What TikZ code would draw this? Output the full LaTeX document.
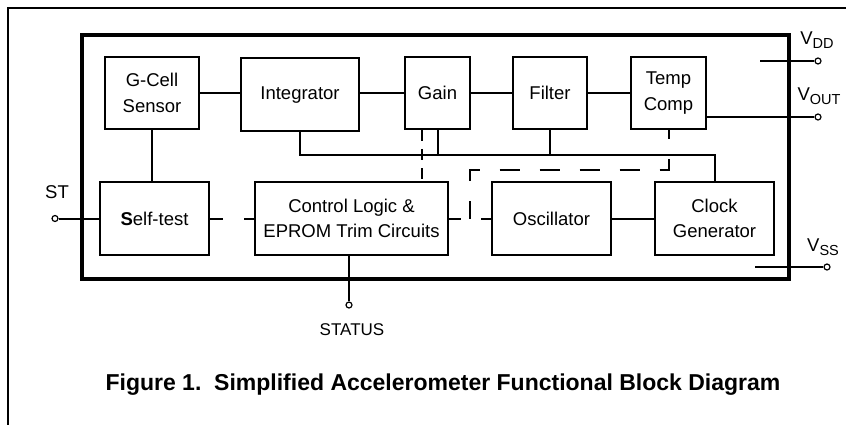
\documentclass[tikz,border=0pt]{standalone}
\usepackage{fontspec}
\setmainfont{Liberation Sans}
\usepackage{tikz}
\usetikzlibrary{calc}

\newcommand{\pinname}[2]{#1\raisebox{-4.5pt}{\fontsize{14.5}{15}\selectfont #2}}

\begin{document}
\begin{tikzpicture}[x=1pt, y=-1pt,
    blk/.style={draw, line width=2pt, align=center, inner sep=0pt,
                font=\fontsize{18.5}{25.5}\selectfont},
    wire/.style={line width=2pt},
    term/.style={circle, draw, line width=1.2pt, minimum size=6pt, inner sep=0pt},
    termtxt/.style={font=\fontsize{18.5}{20}\selectfont, inner sep=0pt}]
    \useasboundingbox (0,0) rectangle (846,425);

    % frames
    \draw[wire] (846,8) -- (8,8) -- (8,425);
    \draw[line width=3.2pt] (82,35) rectangle (789,279);

    % top row
    \node[blk, minimum width=94pt, minimum height=72pt] (gcell) at (152,93) {G-Cell\\Sensor};
    \node[blk, minimum width=118pt, minimum height=73pt] (integ) at (300,95) {Integrator};
    \node[blk, minimum width=65pt, minimum height=72pt] (gain) at (437.5,93) {Gain};
    \node[blk, minimum width=74pt, minimum height=72pt] (filter) at (550,93) {Filter};
    \node[blk, minimum width=75pt, minimum height=72pt] (temp) at (668.5,93) {Temp\\Comp};

    % bottom row
    \node[blk, minimum width=109pt, minimum height=73pt] (selftest) at (154.5,218.5) {\textbf{S}elf-test};
    \node[blk, minimum width=193pt, minimum height=73pt] (ctrl) at (351.5,218.5) {Control Logic \&\\EPROM Trim Circuits};
    \node[blk, minimum width=119pt, minimum height=73pt] (osc) at (551.5,218.5) {Oscillator};
    \node[blk, minimum width=119pt, minimum height=73pt] (clk) at (714.5,218.5) {Clock\\Generator};

    % signal chain
    \draw[wire] (gcell.east) -- (gcell.east -| integ.west);
    \draw[wire] (integ.east |- gain.west) -- (gain.west);
    \draw[wire] (gain) -- (filter);
    \draw[wire] (filter) -- (temp);
    \draw[wire] (gcell.south) -- (gcell.south |- selftest.north);
    \draw[wire] (osc) -- (clk);

    % clock bus
    \coordinate (bus) at (301,155);
    \draw[wire] (integ.south) -- (integ.south |- bus) -| (clk.north);
    \draw[wire] (gain.south) -- (gain.south |- bus);
    \draw[wire] (filter.south) -- (filter.south |- bus);

    % trim lines
    \draw[wire, dash pattern=on 13pt off 21pt] (selftest.east) -- (ctrl.west);
    \draw[wire, dash pattern=on 12pt off 20pt] (ctrl.east) -- (osc.west);
    \draw[wire, dash pattern=on 11pt off 8pt] ([xshift=-16pt]gain.south) -- ([xshift=-16pt]gain.south |- ctrl.north);
    \coordinate (ctap) at ($(ctrl.east)!0.5!(osc.west)$);
    \draw[wire, dash pattern=on 20pt off 20pt, dash phase=2pt] (ctap) |- ($(temp.south)+(0,40)$) -- (temp.south);

    % pins
    \node[term] (st) at (55,218.5) {};
    \draw[wire] (st) -- (selftest.west);
    \node[termtxt] (sttxt) at (57,192) {ST};

    \coordinate (vddin) at (760,61);
    \node[term] (vdd) at (818,61) {};
    \draw[wire] (vddin) -- (vdd);
    \node[termtxt] (vddtxt) at (817,40) {\pinname{V}{DD}};

    \node[term] (vout) at (818,117) {};
    \draw[wire] (temp.east |- vout) -- (vout);
    \node[termtxt] (vouttxt) at (819,96) {\pinname{V}{OUT}};

    \coordinate (vssin) at (755,267);
    \node[term] (vss) at (827,267) {};
    \draw[wire] (vssin) -- (vss);
    \node[termtxt] (vsstxt) at (823,247) {\pinname{V}{SS}};

    \node[term] (status) at (349,305) {};
    \draw[wire] (status |- ctrl.south) -- (status);
    \node[termtxt, font=\fontsize{17}{20}\selectfont] (stattxt) at (352,330) {STATUS};

    % caption
    \node[font=\bfseries\fontsize{23}{27}\selectfont, inner sep=0pt, anchor=base] (cap) at (443,390)
        {Figure 1.\ \ Simplified Accelerometer Functional Block Diagram};
\end{tikzpicture}
\end{document}
